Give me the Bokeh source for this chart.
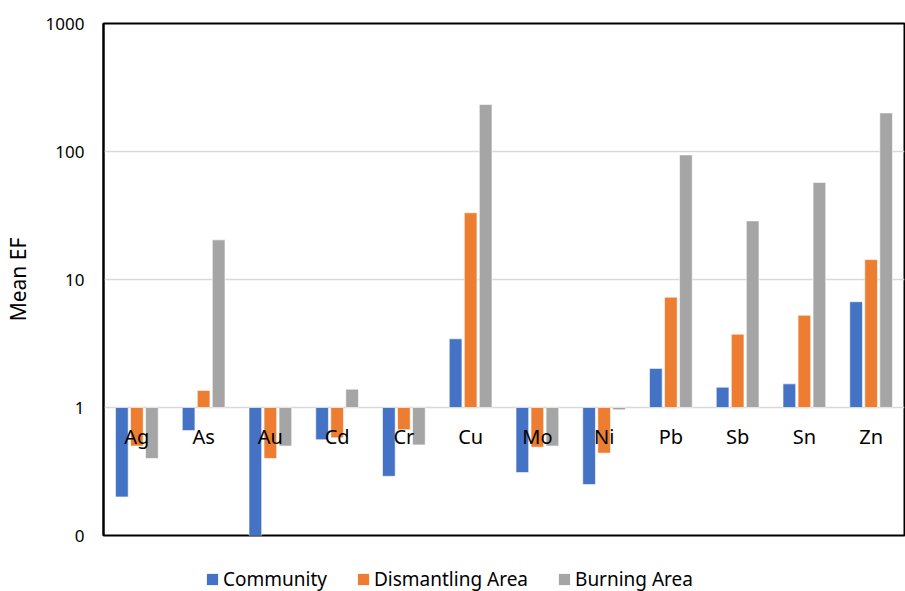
from bokeh.plotting import figure
from bokeh.layouts import column
from bokeh.models import ColumnDataSource, FactorRange, Range1d, FixedTicker, Legend, LegendItem
from bokeh.transform import dodge
from bokeh.core.properties import value
from bokeh.embed import file_html
from bokeh.resources import INLINE

elements = ["Ag", "As", "Au", "Cd", "Cr", "Cu", "Mo", "Ni", "Pb", "Sb", "Sn", "Zn"]
community = [0.20, 0.66, 0.10, 0.56, 0.29, 3.44, 0.31, 0.25, 2.02, 1.44, 1.53, 6.7]
dismantling = [0.50, 1.36, 0.40, 0.58, 0.67, 33.2, 0.49, 0.44, 7.28, 3.74, 5.26, 14.3]
burning = [0.40, 20.4, 0.50, 1.39, 0.51, 233.0, 0.50, 0.96, 94.0, 28.7, 57.3, 200.0]
series_names = ["Community", "Dismantling Area", "Burning Area"]
y_ticks = [0.1, 1, 10, 100, 1000]
y_tick_labels = {0.1: "0", 1: "1", 10: "10", 100: "100", 1000: "1000"}
baseline = 1

colors = ["#4472C4", "#ED7D31", "#A5A5A5"]
FONT = "Noto Sans"

src = ColumnDataSource(dict(
    x=elements, community=community, dismantling=dismantling, burning=burning,
    base=[baseline] * len(elements),
))

p = figure(
    x_range=FactorRange(factors=elements, range_padding=0),
    y_range=Range1d(0.1, 1000),
    y_axis_type="log",
    x_axis_location=None,
    frame_width=801, frame_height=512,
    output_backend="svg", toolbar_location=None,
    min_border_left=102, min_border_right=2, min_border_top=23, min_border_bottom=20,
)

for col, off, c in zip(["community", "dismantling", "burning"], [-0.225, 0.0, 0.225], colors):
    p.vbar(x=dodge("x", off, range=p.x_range), bottom="base", top=col, width=0.19,
           source=src, fill_color=c, line_color="white", line_width=0.6)

p.text(x="x", y="base", text="x", source=src, text_align="center", text_baseline="middle",
       y_offset=29, text_font=value(FONT), text_font_size="20px", text_color="black")

p.xgrid.visible = False
p.ygrid.ticker = FixedTicker(ticks=y_ticks)
p.ygrid.grid_line_color = "#D9D9D9"
p.ygrid.grid_line_width = 1.5

yax = p.yaxis[0]
yax.ticker = FixedTicker(ticks=y_ticks, minor_ticks=[])
yax.major_label_overrides = y_tick_labels
yax.major_tick_out = 0
yax.major_tick_in = 0
yax.minor_tick_out = 0
yax.minor_tick_in = 0
yax.axis_line_color = "black"
yax.axis_line_width = 2
yax.major_label_standoff = 19
yax.major_label_text_font = FONT
yax.major_label_text_font_size = "17px"
yax.major_label_text_color = "black"
yax.axis_label = "Mean EF"
yax.axis_label_text_font = FONT
yax.axis_label_text_font_size = "21px"
yax.axis_label_text_font_style = "normal"
yax.axis_label_text_color = "black"
yax.axis_label_standoff = 11

p.outline_line_color = "black"
p.outline_line_width = 2
p.outline_line_alpha = 1

# legend strip below the chart (series renderers hidden; only their legend swatches show)
lg = figure(
    x_range=FactorRange(factors=elements, range_padding=0), y_range=Range1d(0.1, 1000),
    y_axis_type="log",
    frame_width=905, frame_height=36,
    output_backend="svg", toolbar_location=None,
    x_axis_location=None, y_axis_location=None,
    min_border_left=0, min_border_right=0, min_border_top=0, min_border_bottom=0,
)
lg.outline_line_color = None
lg.xgrid.visible = False
lg.ygrid.visible = False
legend_renderers = []
for col, c in zip(["community", "dismantling", "burning"], colors):
    r = lg.vbar(x="x", bottom="base", top=col, width=0.19, source=src,
                fill_color=c, line_color=None, visible=False)
    legend_renderers.append(r)

legend = Legend(
    items=[LegendItem(label=n, renderers=[r]) for n, r in zip(series_names, legend_renderers)],
    orientation="horizontal", location=(205, -1),
    label_text_font=FONT, label_text_font_size="19px", label_height=20,
    label_text_color="black",
    glyph_width=14, glyph_height=14, spacing=29, label_standoff=4,
    border_line_color=None, background_fill_alpha=0, padding=0, margin=0,
    inactive_fill_alpha=0,
)
lg.add_layout(legend, "center")

open("out.html", "w").write(file_html(column(p, lg, spacing=0), INLINE))
